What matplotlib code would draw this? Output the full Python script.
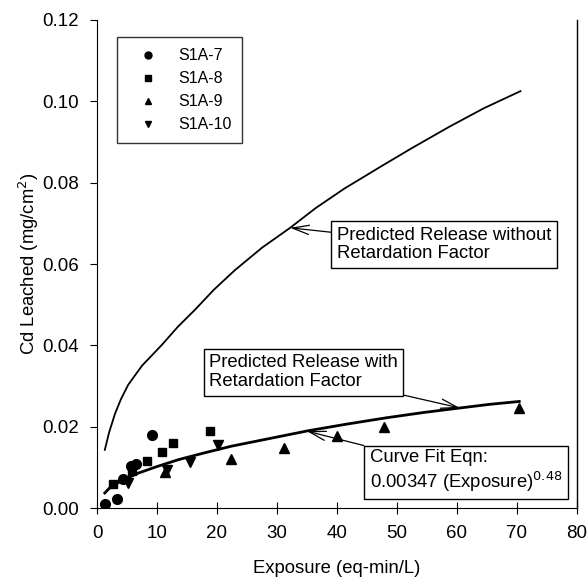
import numpy as np
import matplotlib.pyplot as plt

plt.rcParams['font.family'] = ['Liberation Sans', 'DejaVu Sans']

s7_x = [1.3, 3.3, 4.4, 5.7, 6.5, 9.2]
s7_y = [0.0010, 0.0022, 0.0072, 0.0103, 0.0108, 0.0179]
s8_x = [2.6, 5.8, 8.4, 10.8, 12.7, 18.8]
s8_y = [0.0059, 0.0092, 0.0116, 0.0137, 0.0159, 0.0189]
s9_x = [11.3, 22.4, 31.1, 40.0, 47.8, 70.4]
s9_y = [0.0089, 0.0120, 0.0147, 0.0178, 0.0198, 0.0245]
s10_x = [5.2, 11.6, 15.5, 20.2]
s10_y = [0.0061, 0.0093, 0.0114, 0.0155]

# predicted release without retardation factor
nr_x = [1.3, 2.0, 3.0, 4.0, 5.2, 7.5, 10.8, 13.5, 16.3, 19.5, 23.0, 27.5,
        32.2, 36.5, 41.3, 47.7, 52.5, 58.8, 64.5, 70.6]
nr_y = [0.0143, 0.0185, 0.0232, 0.0268, 0.0303, 0.0350, 0.0401, 0.0446,
        0.0487, 0.0537, 0.0585, 0.0640, 0.0689, 0.0738, 0.0786, 0.0843,
        0.0885, 0.0938, 0.0983, 0.1025]

# curve fit / predicted release with retardation factor
fit_x = [1.3, 2.0, 3.0, 4.5, 6.9, 10.0, 13.6, 18.0, 22.4, 28.8, 35.2, 41.5,
         48.3, 54.5, 60.5, 65.5, 70.4]
fit_y = [0.0037, 0.0048, 0.0058, 0.0070, 0.0086, 0.0102, 0.0119, 0.0136,
         0.0152, 0.0171, 0.0190, 0.0206, 0.0222, 0.0235, 0.0246, 0.0255, 0.0262]

fig = plt.figure(figsize=(5.88, 5.81), dpi=100)
ax = fig.add_axes([0.165, 0.1256, 0.816, 0.84])

ax.plot(nr_x, nr_y, color='black', lw=1.3)
ax.plot(fit_x, fit_y, color='black', lw=2.0)

ax.plot(s7_x, s7_y, 'o', color='black', ms=7, label='S1A-7', ls='none')
ax.plot(s8_x, s8_y, 's', color='black', ms=6, label='S1A-8', ls='none')
ax.plot(s9_x, s9_y, '^', color='black', ms=6.5, label='S1A-9', ls='none')
ax.plot(s10_x, s10_y, 'v', color='black', ms=6.5, label='S1A-10', ls='none')

ax.set_xlim(0, 80)
ax.set_ylim(0, 0.12)
ax.set_xticks(np.arange(0, 81, 10))
ax.set_yticks(np.arange(0, 0.121, 0.02))
ax.set_yticklabels([f"{v:.2f}" for v in np.arange(0, 0.121, 0.02)])
ax.tick_params(axis='x', direction='inout', length=8, labelsize=13.5, pad=8)
ax.tick_params(axis='y', direction='out', length=5, labelsize=13.5, pad=8)
ax.spines['top'].set_visible(False)
ax.spines['right'].set_linewidth(1.0)

ax.set_xlabel('Exposure (eq-min/L)', fontsize=13.3, labelpad=13)
ax.set_ylabel('Cd Leached (mg/cm$^2$)', fontsize=13.3, labelpad=1)

leg = ax.legend(loc='upper left', bbox_to_anchor=(0.042, 0.965), borderaxespad=0,
                fontsize=11.5, frameon=True, fancybox=False, edgecolor='black',
                handletextpad=0.7, borderpad=0.7, labelspacing=0.5,
                handlelength=2.4)
leg.get_frame().set_linewidth(1.0)
for h in leg.legend_handles:
    h.set_markersize(5)

box = dict(boxstyle='square,pad=0.3', fc='white', ec='black', lw=1.0)
arr = dict(arrowstyle='->,head_length=0.9,head_width=0.25', color='black', lw=0.9,
           shrinkA=0, shrinkB=0)

ax.annotate('Predicted Release without\nRetardation Factor', xy=(32.2, 0.0689),
            xytext=(40.0, 0.0648), fontsize=13.3, va='center', ha='left',
            bbox=box, arrowprops=arr, linespacing=1.15)
ax.annotate('Predicted Release with\nRetardation Factor', xy=(60.5, 0.0246),
            xytext=(18.7, 0.0334), fontsize=13.3, va='center', ha='left',
            bbox=box, arrowprops=arr, linespacing=1.15)
ax.annotate('Curve Fit Eqn:\n0.00347 (Exposure)$^{0.48}$', xy=(35.0, 0.0189),
            xytext=(45.5, 0.0090), fontsize=13.3, va='center', ha='left',
            bbox=box, arrowprops=arr, linespacing=1.2)

fig.savefig('out.png', dpi=100)
